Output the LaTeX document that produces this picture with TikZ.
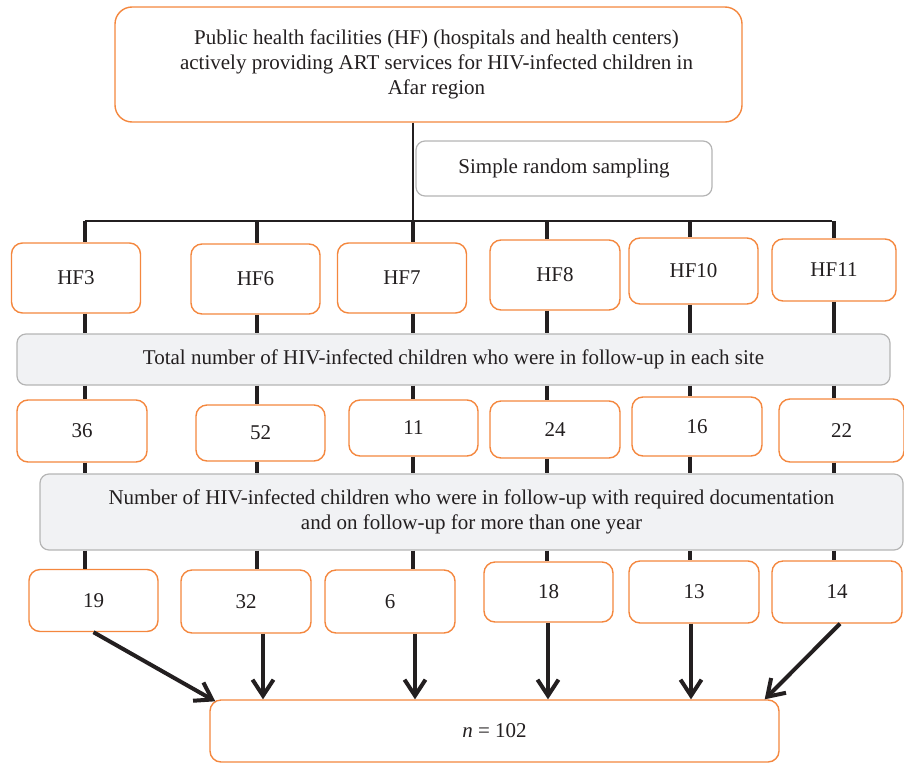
\documentclass[tikz,border=0pt]{standalone}
\usepackage{fontspec}
\setmainfont{Liberation Serif}
\usetikzlibrary{arrows.meta}
\definecolor{siteorange}{HTML}{F4873E}
\definecolor{bandgray}{HTML}{F1F2F4}
\definecolor{edgegray}{HTML}{B5B5B5}
\definecolor{ink}{HTML}{231F20}
\tikzset{%
	every site/.style={
		draw=siteorange,
		line width=1.4pt,
		rounded corners=11pt,
		fill=white,
		text=ink,
		inner sep=0pt
	},
	count band/.style={
		draw=edgegray,
		line width=1.2pt,
		rounded corners=9pt,
		fill=bandgray,
		text=ink,
		align=center,
		inner sep=0pt
	},
	thin link/.style={draw=ink, line width=1.4pt},
	thick link/.style={draw=ink, line width=4pt},
	to pool/.style={thick link, -{Straight Barb[length=16pt,width=21pt]}},
}

\begin{document}
\begin{tikzpicture}[x=1pt, y=-1pt, font=\fontsize{21}{25}\selectfont]
		
		\useasboundingbox (0,0) rectangle (904,763);
		
		\node [every site, rounded corners=17pt, minimum width=627pt, minimum height=115pt, align=center] (facilities) at (428.5,64.5)
		{\hspace*{16pt}Public health facilities (HF) (hospitals and health centers)\\
			\hspace*{16pt}actively providing ART services for HIV-infected children in\\
			\hspace*{16pt}Afar region};
		
		\node [count band, fill=white, minimum width=296pt, minimum height=55pt] (sampling) at (564,168.5) {Simple random sampling};
		
		\coordinate (split) at (413,221);
		\coordinate (bar-l) at (85,221);
		\coordinate (bar-r) at (832,221);
		\draw [thin link] (facilities.south -| split) -- (split);
		\draw [thin link] (bar-l) -- (bar-r);
		
		\foreach \c [count=\i] in {85,257,413,547,690,834}
		\coordinate (col-\i) at (\c,221);
		
		\foreach \l/\x/\y/\w/\h [count=\i] in {3/76/278/129/70, 6/255.5/279/129/70, 7/402/278/129/70, 8/555/275/130/70, 10/693.5/271/129/66, 11/834/270/124/62}
		\node [every site, minimum width=\w pt, minimum height=\h pt] (hf-\i) at (\x,\y) {HF\l};
		
		\node [count band, minimum width=873pt, minimum height=51pt] (total) at (453.5,359.5)
		{Total number of HIV-infected children who were in follow-up in each site};
		
		\foreach \l/\x/\y/\w/\h [count=\i] in {36/82/431/130/62, 52/260.5/433/129/56, 11/413.5/428/129/56, 24/555/429.5/130/57, 16/697/426.5/130/59, 22/841.5/430.5/125/63}
		\node [every site, minimum width=\w pt, minimum height=\h pt] (seen-\i) at (\x,\y) {\l};
		
		\node [count band, minimum width=863pt, minimum height=76pt] (documented) at (471.5,512)
		{Number of HIV-infected children who were in follow-up with required documentation\\
			and on follow-up for more than one year};
		
		\foreach \l/\x/\y/\w/\h [count=\i] in {19/93.5/600.5/129/62, 32/246/601.5/130/63, 6/390/601.5/130/63, 18/548.5/592/129/60, 13/694/592/130/62, 14/837/592/130/62}
		\node [every site, minimum width=\w pt, minimum height=\h pt] (kept-\i) at (\x,\y) {\l};
		
		\node [every site, minimum width=569pt, minimum height=62pt] (pool) at (494.5,731) {\textit{n} = 102};
		
		% links down each column
		\foreach \i in {1,...,6}
		{
			\draw [thick link] (col-\i) -- (hf-\i.north -| col-\i);
			\draw [thick link] (hf-\i.south -| col-\i) -- (total.north -| col-\i);
			\draw [thick link] (total.south -| col-\i) -- (seen-\i.north -| col-\i);
			\draw [thick link] (seen-\i.south -| col-\i) -- (documented.north -| col-\i);
			\draw [thick link] (documented.south -| col-\i) -- (kept-\i.north -| col-\i);
		}
		
		% arrows into the sample
		\draw [to pool] (kept-1.south) -- ([xshift=6pt, yshift=-2pt]pool.north west);
		\foreach \c [count=\i from 2] in {263,415,548,691}
		\draw [to pool] (kept-\i.south -| \c,0) -- (pool.north -| \c,0);
		\draw [to pool] ([xshift=3pt]kept-6.south) -- ([xshift=-15pt]pool.north east);
		
\end{tikzpicture}
\end{document}
